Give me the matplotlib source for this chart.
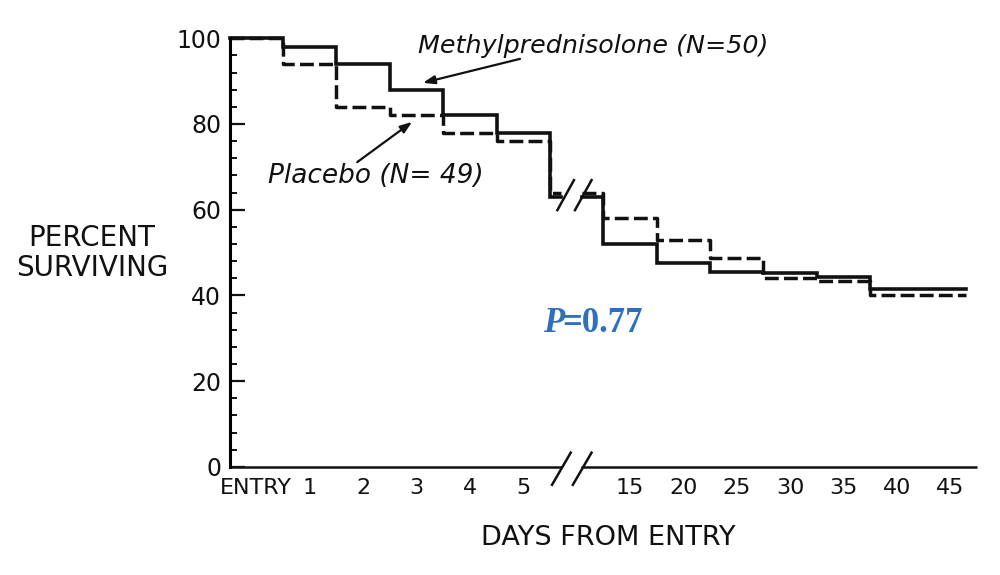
import matplotlib
matplotlib.use("Agg")
import matplotlib.pyplot as plt
from matplotlib.ticker import MultipleLocator

# ---- data ----
interval_labels = ["ENTRY", "1", "2", "3", "4", "5", "", "15", "20", "25", "30", "35", "40", "45"]
methyl = [100, 98, 94, 88, 82, 78, 63, 52, 47.5, 45.5, 45.3, 44.2, 41.5, 41.5]
placebo = [100, 94, 84, 82, 78, 76, 64, 58, 53, 48.7, 44, 43.4, 40, 40]
yticks = [0, 20, 40, 60, 80, 100]
BREAK = 6          # index of the interval that holds the axis break
methyl_label = "Methylprednisolone (N=50)"
placebo_label = "Placebo (N= 49)"
p_value = "=0.77"

INK = "#111111"
BLUE = "#2f6fbf"

fig = plt.figure(figsize=(10, 5.75), dpi=100)
ax = fig.add_axes([0.2296, 0.1882, 0.7474, 0.7452])
n = len(interval_labels)
ax.set_xlim(0, n)
ax.set_ylim(0, 100)


def draw(vals, **kw):
    xl = list(range(0, BREAK + 1)) + [BREAK + 0.2]
    yl = vals[:BREAK + 1] + [vals[BREAK]]
    ax.plot(xl, yl, drawstyle="steps-post", clip_on=False, **kw)
    xr = [BREAK + 0.6] + list(range(BREAK + 1, len(vals))) + [len(vals) - 0.2]
    yr = [vals[BREAK]] + vals[BREAK + 1:] + [vals[-1]]
    ax.plot(xr, yr, drawstyle="steps-post", clip_on=False, **kw)


draw(placebo, color=INK, lw=2.5, linestyle=(0, (4.0, 1.5)), solid_joinstyle="miter")
draw(methyl, color=INK, lw=2.6, solid_joinstyle="miter")

# break marks on the curves
yb = (methyl[BREAK] + placebo[BREAK]) / 2
for dx in (0.14, 0.47):
    ax.plot([BREAK + dx, BREAK + dx + 0.31], [yb - 3.6, yb + 3.4], color=INK, lw=1.8, clip_on=False)

# x axis drawn in two pieces with a break
ax.spines["bottom"].set_visible(False)
ax.spines["top"].set_visible(False)
ax.spines["right"].set_visible(False)
ax.spines["left"].set_linewidth(2.2)
ax.plot([0, BREAK + 0.22], [0, 0], color=INK, lw=1.8, clip_on=False, solid_capstyle="butt")
ax.plot([BREAK + 0.58, n], [0, 0], color=INK, lw=1.8, clip_on=False, solid_capstyle="butt")
for dx in (0.04, 0.43):
    ax.plot([BREAK + dx, BREAK + dx + 0.35], [-4.2, 3.3], color=INK, lw=1.8, clip_on=False)

# ticks
ax.set_yticks(yticks)
ax.set_yticklabels([str(v) for v in yticks])
ax.yaxis.set_minor_locator(MultipleLocator(4))
ax.tick_params(axis="y", which="major", direction="in", length=11, width=1.6,
               labelsize=17, pad=6, colors=INK)
ax.tick_params(axis="y", which="minor", direction="in", length=5, width=1.4, colors=INK)
ax.set_xticks([i + 0.5 for i in range(n)])
ax.set_xticklabels(interval_labels)
ax.tick_params(axis="x", which="both", length=0, labelsize=16, pad=8, colors=INK)

# axis titles
fig.text(0.092, 0.56, "PERCENT\nSURVIVING", ha="center", va="center",
         fontsize=20, color=INK, linespacing=1.05)
fig.text(0.608, 0.064, "DAYS FROM ENTRY", ha="center", va="center",
         fontsize=19.5, color=INK)

# annotations
ax.annotate("", xy=(3.62, 89.6), xytext=(5.44, 95.2),
            arrowprops=dict(arrowstyle="-|>,head_length=0.7,head_width=0.25",
                            color=INK, lw=1.6, shrinkA=0, shrinkB=0))
ax.annotate("", xy=(3.42, 80.5), xytext=(2.39, 71.1),
            arrowprops=dict(arrowstyle="-|>,head_length=0.7,head_width=0.25",
                            color=INK, lw=1.6, shrinkA=0, shrinkB=0))
fig.text(418 / 1000, 1 - 46 / 575, methyl_label, ha="left", va="center",
         fontsize=18.3, style="italic", color=INK)
fig.text(268 / 1000, 1 - 176 / 575, placebo_label, ha="left", va="center",
         fontsize=19, style="italic", color=INK)

# P value
ptxt = fig.text(543 / 1000, 1 - 340 / 575, "P", ha="left", va="bottom",
                fontsize=25, family="Liberation Serif", weight="bold",
                style="italic", color=BLUE)
ax.annotate(p_value, xy=(0.92, 0), xycoords=ptxt, ha="left", va="bottom",
            fontsize=25, family="Liberation Serif", weight="bold", color=BLUE,
            annotation_clip=False)

fig.savefig("out.png", dpi=100)
